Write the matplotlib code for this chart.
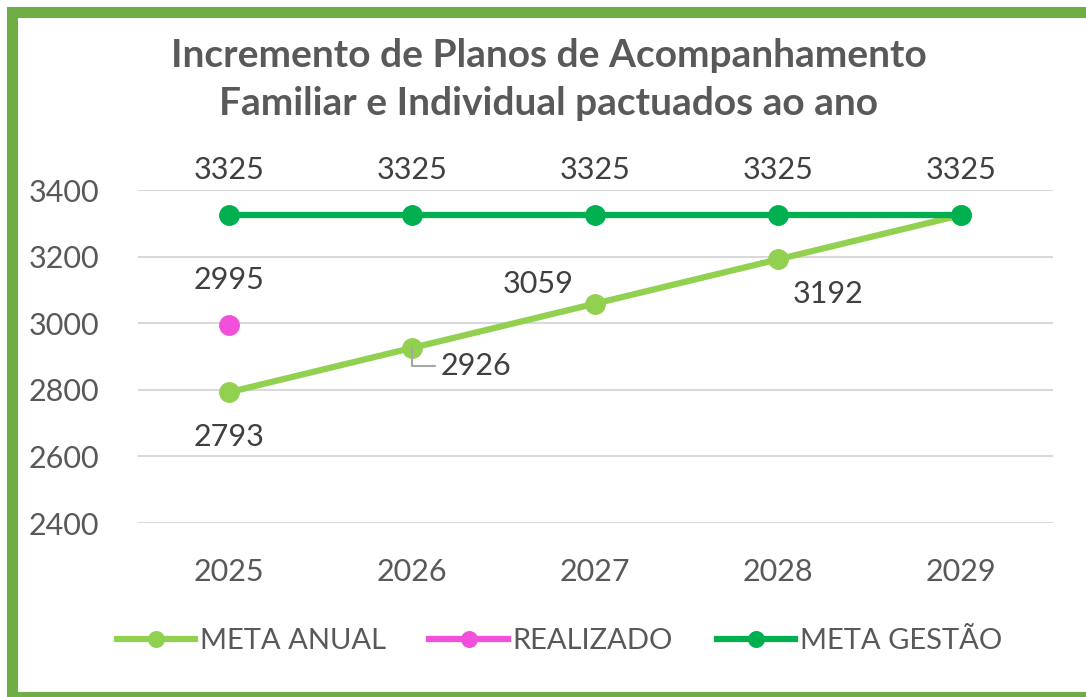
import matplotlib
matplotlib.use("Agg")
import matplotlib.pyplot as plt
from matplotlib.patches import Rectangle

# data
anos = ["2025", "2026", "2027", "2028", "2029"]
meta_anual = [2793, 2926, 3059, 3192, 3325]
realizado = [2995]
meta_gestao = [3325, 3325, 3325, 3325, 3325]

c_anual = "#92D050"
c_real = "#F24FDB"
c_gestao = "#00B050"
c_txt = "#595959"
c_lbl = "#404040"

plt.rcParams['font.family'] = ['Lato', 'DejaVu Sans']

fig = plt.figure(figsize=(10.86, 6.97), dpi=100)
ax = fig.add_axes([0.127, 0.2496, 0.8425, 0.4778])

x = list(range(len(anos)))
ax.plot(x, meta_anual, color=c_anual, lw=4.5, marker="o", ms=14, label="META ANUAL", zorder=3)
ax.plot(x[:len(realizado)], realizado, color=c_real, lw=4.5, marker="o", ms=14, label="REALIZADO", zorder=4)
ax.plot(x, meta_gestao, color=c_gestao, lw=4.5, marker="o", ms=14, label="META GESTÃO", zorder=5)

ax.set_ylim(2400, 3400)
ax.set_xlim(-0.5, len(anos) - 0.5)
ax.set_yticks(range(2400, 3401, 200))
ax.set_xticks(x)
ax.set_xticklabels(anos)
ax.grid(axis="y", color="#d9d9d9", lw=1.5)
ax.set_axisbelow(True)
for s in ax.spines.values():
    s.set_visible(False)
ax.tick_params(length=0, labelsize=22, labelcolor=c_txt)
ax.tick_params(axis="x", pad=25)
ax.tick_params(axis="y", pad=28)

fs = 22
# labels of META GESTÃO, above
for i, v in enumerate(meta_gestao):
    ax.annotate(str(v), (i, v), xytext=(0, 22), textcoords="offset points",
                ha="center", va="bottom", fontsize=fs, color=c_lbl)
# REALIZADO
ax.annotate(str(realizado[0]), (0, realizado[0]), xytext=(0, 22), textcoords="offset points",
            ha="center", va="bottom", fontsize=fs, color=c_lbl)
# META ANUAL
ax.annotate(str(meta_anual[0]), (0, meta_anual[0]), xytext=(0, -22), textcoords="offset points",
            ha="center", va="top", fontsize=fs, color=c_lbl)
ax.annotate(str(meta_anual[1]), (1, meta_anual[1]), xytext=(20, -13), textcoords="offset points",
            ha="left", va="center", fontsize=fs, color=c_lbl,
            arrowprops=dict(arrowstyle="-", color="#a6a6a6", lw=1.5, shrinkA=2, shrinkB=0,
                            relpos=(0, 0.5), connectionstyle="angle,angleA=0,angleB=90,rad=0"))
ax.annotate(str(meta_anual[2]), (2, meta_anual[2]), xytext=(-41, 14), textcoords="offset points",
            ha="center", va="center", fontsize=fs, color=c_lbl)
ax.annotate(str(meta_anual[3]), (3, meta_anual[3]), xytext=(36, -25), textcoords="offset points",
            ha="center", va="center", fontsize=fs, color=c_lbl)

fig.text(0.505, 0.886, "Incremento de Planos de Acompanhamento\nFamiliar e Individual pactuados ao ano",
         ha="center", va="center", fontsize=28, fontweight="bold", color=c_txt, linespacing=1.42)

leg = fig.legend(loc="center", bbox_to_anchor=(0.515, 0.08), ncol=3, frameon=False,
                 fontsize=21, handlelength=2.7, handletextpad=0.15, columnspacing=1.5,
                 markerscale=0.8)
for t in leg.get_texts():
    t.set_color(c_txt)

# green frame
fig.patches.append(Rectangle((12 / 1086, -0.0007), 1.05, 685 / 697, transform=fig.transFigure,
                             fill=False, edgecolor="#70AD47", lw=8, clip_on=False))

fig.savefig("out.png", dpi=100)
